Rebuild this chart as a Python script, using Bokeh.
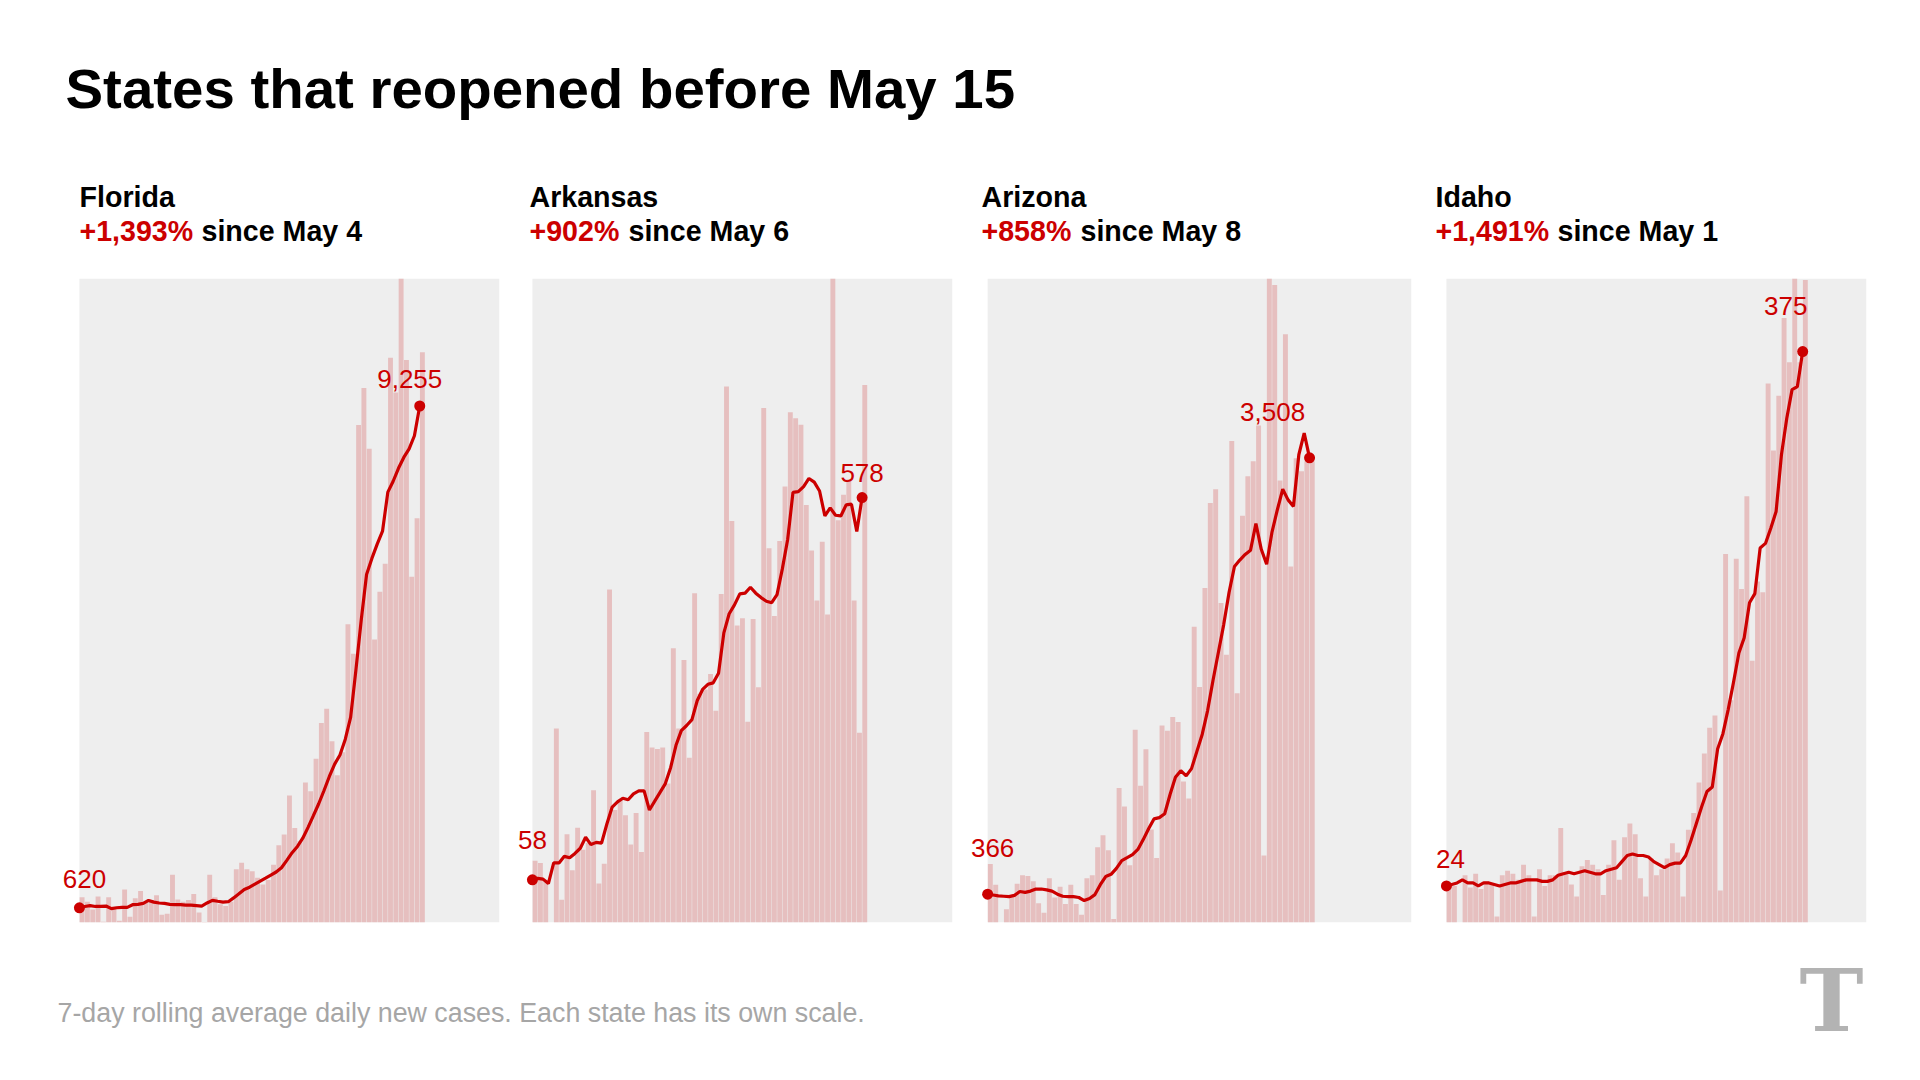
from bokeh.plotting import figure
from bokeh.models import Label, BoxAnnotation
from bokeh.layouts import column, row
from bokeh.embed import file_html
from bokeh.resources import INLINE

RED = "#cc0000"
BAR = "#e6bfbf"
PANEL_BG = "#eeeeee"
FONT = "Liberation Sans"

# Data: daily new cases (bars) and 7-day rolling average (line), from each state's reopening day
states = ["Florida", "Arkansas", "Arizona", "Idaho"]
pct_change = ["+1,393%", "+902%", "+858%", "+1,491%"]
since = ["since May 4", "since May 6", "since May 8", "since May 1"]

florida_daily = [800, 725, 591, 814, 382, 800, 635, 397, 934, 464,
                 785, 911, 710, 755, 837, 501, 516, 1187, 762, 725,
                 755, 859, 539, 374, 1187, 800, 680, 650, 725, 1284,
                 1396, 1284, 1247, 1135, 1023, 1098, 1359, 1695, 1881, 2552,
                 1993, 1769, 2776, 2627, 3186, 3798, 4044, 3484, 2903, 3298,
                 5498, 4991, 8929, 9563, 8519, 5237, 6057, 6542, 10085, 9488,
                 11458, 10047, 6318, 7325, 10182]
florida_avg = [620, 643, 658, 643, 643, 650, 606, 621, 628, 628,
               673, 680, 695, 747, 718, 703, 695, 680, 673, 673,
               665, 665, 658, 650, 703, 747, 732, 718, 725, 790,
               860, 934, 975, 1027, 1079, 1131, 1184, 1236, 1310, 1437,
               1568, 1676, 1817, 2004, 2205, 2410, 2638, 2880, 3093, 3250,
               3522, 3895, 4715, 5573, 6356, 6632, 6878, 7101, 7773, 7960,
               8183, 8370, 8518, 8743, 9255]

arkansas_daily = [84, 81, 58, 0, 264, 31, 120, 71, 129, 99,
                  108, 180, 53, 80, 453, 153, 167, 146, 106, 149,
                  96, 259, 238, 236, 238, 189, 373, 264, 357, 224,
                  448, 311, 317, 338, 288, 447, 729, 546, 404, 414,
                  273, 413, 320, 700, 509, 417, 519, 593, 694, 686,
                  677, 568, 506, 438, 518, 419, 876, 547, 582, 603,
                  438, 258, 731]
arkansas_avg = [58, 60, 59, 53, 81, 81, 90, 88, 94, 101,
                116, 106, 109, 108, 134, 157, 164, 169, 167, 175,
                179, 179, 153, 165, 177, 189, 211, 241, 261, 268,
                276, 302, 317, 324, 326, 339, 394, 420, 432, 447,
                448, 456, 448, 442, 437, 435, 446, 481, 521, 585,
                586, 593, 604, 599, 587, 553, 564, 554, 553, 568,
                569, 532, 578]

arizona_daily = [583, 434, 162, 258, 348, 441, 503, 496, 459, 301,
                 233, 481, 342, 419, 295, 434, 295, 218, 481, 503,
                 704, 790, 682, 187, 1131, 998, 574, 1549, 1146, 1409,
                 831, 626, 1580, 1543, 1642, 1605, 1177, 1054, 2292, 1858,
                 2570, 3183, 3282, 2462, 2090, 3629, 1812, 3090, 3375, 3483,
                 3740, 645, 4878, 4753, 3344, 4397, 2725, 3505, 3412, 3483,
                 3483]
arizona_avg = [366, 360, 354, 351, 348, 357, 385, 379, 388, 403,
               403, 397, 388, 366, 351, 348, 348, 342, 320, 335,
               363, 434, 493, 509, 552, 608, 629, 651, 688, 759,
               837, 908, 917, 945, 1084, 1208, 1255, 1218, 1270, 1394,
               1518, 1688, 1905, 2106, 2307, 2539, 2725, 2772, 2812, 2843,
               3035, 2849, 2741, 2973, 3134, 3282, 3205, 3158, 3530, 3685,
               3508]

idaho_daily = [25, 24, 0, 31, 23, 32, 22, 27, 26, 4,
               31, 34, 32, 28, 38, 31, 4, 35, 24, 31,
               31, 62, 33, 25, 17, 37, 41, 38, 35, 18,
               38, 54, 28, 56, 65, 58, 29, 17, 42, 31,
               35, 42, 52, 46, 17, 61, 72, 92, 111, 128,
               136, 21, 242, 146, 239, 219, 280, 172, 224, 217,
               354, 310, 346, 397, 368, 423, 368, 422]
idaho_avg = [24, 25, 26, 28, 26, 26, 24, 26, 26, 25,
             24, 25, 26, 26, 27, 28, 28, 28, 27, 27,
             28, 31, 32, 33, 32, 33, 34, 33, 32, 32,
             34, 35, 36, 40, 44, 45, 44, 44, 43, 40,
             38, 36, 38, 39, 39, 44, 54, 65, 76, 86,
             89, 114, 124, 140, 158, 177, 187, 210, 216, 246,
             249, 259, 270, 307, 331, 350, 352, 375]

# each state's own scale: lowest and highest daily count
y_lows = [367, 0, 162, 0]
y_highs = [11449, 876, 4799, 423]
N_DAYS = 79
X_PAD = 5.0   # room left of the gray box for the first dot and its label

# layout: figure width, left border, right border, top border
panel_geom = [(503, 55, 4, 10), (455, 5, 6, 10), (459, 5, 6, 5), (495, 5, 46, 10)]
start_offsets = [(5, 29), (0, 40), (5, 46), (4, 27)]
end_offsets = [(-10, 27), (0, 25), (-37, 46), (-17, 46)]


def state_panel(daily, avg, y_lo, y_hi, geom, start_off, end_off):
    width, left, right, top = geom
    p = figure(width=width, height=662, x_range=(-X_PAD, N_DAYS - 0.5), y_range=(y_lo, y_hi),
               x_axis_type=None, y_axis_type=None, toolbar_location=None,
               output_backend="svg", outline_line_color=None,
               background_fill_color="white", border_fill_color="white",
               min_border_left=left, min_border_right=right,
               min_border_top=top, min_border_bottom=8)
    p.add_layout(BoxAnnotation(left=-0.5, right=N_DAYS - 0.5, fill_color=PANEL_BG,
                               fill_alpha=1, line_color=None, level="underlay"))

    days = list(range(len(daily)))
    p.vbar(x=days, top=daily, bottom=0, width=0.92, fill_color=BAR, line_color=None)

    lx = [d - 0.5 for d in days]
    p.line(lx, avg, line_color=RED, line_width=3.2)
    p.scatter([lx[0], lx[-1]], [avg[0], avg[-1]], size=11, fill_color=RED, line_color=None)

    for xx, yy, (dx, dy) in [(lx[0], avg[0], start_off), (lx[-1], avg[-1], end_off)]:
        p.add_layout(Label(x=xx, y=yy, text=f"{yy:,}", x_offset=dx, y_offset=dy,
                           text_align="center", text_baseline="alphabetic",
                           text_color=RED, text_font=FONT, text_font_size="26px"))
    return p


# title and panel headers (pixel coordinates, y up)
head = figure(width=1912, height=268, x_range=(0, 1912), y_range=(0, 268),
              x_axis_type=None, y_axis_type=None, toolbar_location=None,
              output_backend="svg", outline_line_color=None, min_border=0)
head.add_layout(Label(x=65, y=180, text="States that reopened before May 15",
                      text_font=FONT, text_font_size="56.4px", text_font_style="bold",
                      text_color="black", text_baseline="alphabetic"))
header_x = [79, 529, 981, 1435]
pct_width = [122, 99, 99, 122]
for name, pct, sn, hx, pw in zip(states, pct_change, since, header_x, pct_width):
    head.add_layout(Label(x=hx, y=72, text=name, text_font=FONT, text_font_size="28.6px",
                          text_font_style="bold", text_color="black", text_baseline="alphabetic"))
    head.add_layout(Label(x=hx, y=38, text=pct, text_font=FONT, text_font_size="28.6px",
                          text_font_style="bold", text_color=RED, text_baseline="alphabetic"))
    head.add_layout(Label(x=hx + pw, y=38, text=sn, text_font=FONT, text_font_size="28.6px",
                          text_font_style="bold", text_color="black", text_baseline="alphabetic"))

panels = []
series = [(florida_daily, florida_avg), (arkansas_daily, arkansas_avg),
          (arizona_daily, arizona_avg), (idaho_daily, idaho_avg)]
for i, (d, a) in enumerate(series):
    panels.append(state_panel(d, a, y_lows[i], y_highs[i], panel_geom[i],
                              start_offsets[i], end_offsets[i]))

foot = figure(width=1912, height=142, x_range=(0, 1912), y_range=(0, 142),
              x_axis_type=None, y_axis_type=None, toolbar_location=None,
              output_backend="svg", outline_line_color=None, min_border=0)
foot.add_layout(Label(x=57, y=60, text="7-day rolling average daily new cases. Each state has its own scale.",
                      text_font=FONT, text_font_size="26.8px", text_color="#a6a6a6",
                      text_baseline="alphabetic"))
foot.add_layout(Label(x=1831, y=72, text="T", text_font="DejaVu Serif", text_font_size="86px",
                      text_font_style="bold", text_color="#b3b3b3", text_align="center",
                      text_baseline="alphabetic"))

p = column(head, row(*panels), foot)

open("out.html", "w").write(file_html(p, INLINE))
